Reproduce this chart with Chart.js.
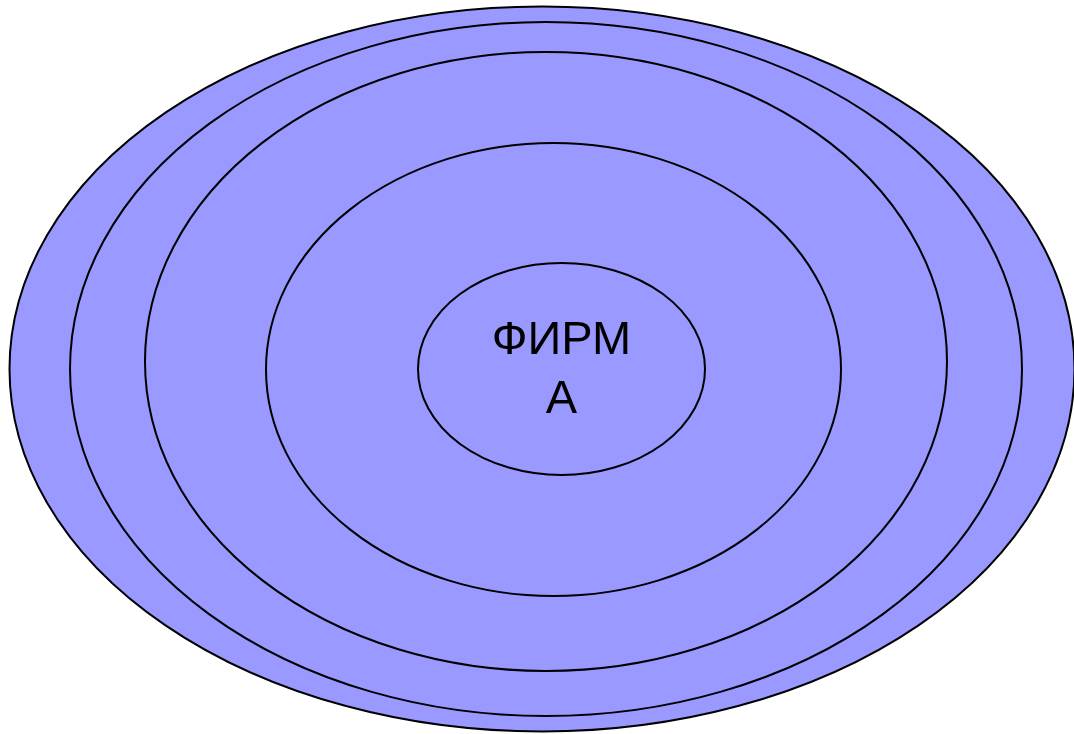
<!DOCTYPE html>
<html>
<head>
<meta charset="utf-8">
<script src="https://cdn.jsdelivr.net/npm/chart.js@4"></script>
<style>
  html, body { margin: 0; padding: 0; background: #fff; }
  #wrap { width: 1074px; height: 734px; }
</style>
</head>
<body>
<div id="wrap"><canvas id="rings"></canvas></div>
<script>
// ring geometry, outermost first (diagram units = px of the original)
const ringCenterX = [542, 546, 546, 553.5, 561.5];
const ringCenterY = [369, 369, 361.5, 369.5, 369];
const ringRadiusX = [532.5, 476, 401, 287.5, 143.5];
const ringRadiusY = [362.5, 347, 309.5, 226.5, 106];
const centerLabel = ["ФИРМ", "А"];

const ringPoints = ringCenterX.map((x, i) => ({ x: x, y: ringCenterY[i] }));

// draws every ring as an ellipse, positioned via the chart scales
const ellipsePlugin = {
  id: "ellipses",
  beforeDatasetsDraw(chart) {
    const ctx = chart.ctx;
    const xs = chart.scales.x, ys = chart.scales.y;
    ctx.save();
    for (let i = 0; i < ringCenterX.length; i++) {
      const cx = xs.getPixelForValue(ringCenterX[i]);
      const cy = ys.getPixelForValue(ringCenterY[i]);
      const rx = Math.abs(xs.getPixelForValue(ringCenterX[i] + ringRadiusX[i]) - cx);
      const ry = Math.abs(ys.getPixelForValue(ringCenterY[i] + ringRadiusY[i]) - cy);
      ctx.beginPath();
      ctx.ellipse(cx, cy, rx, ry, 0, 0, Math.PI * 2);
      ctx.fillStyle = "#9999ff";
      ctx.fill();
      ctx.lineWidth = 2;
      ctx.strokeStyle = "#000";
      ctx.stroke();
    }
    // label in the innermost ring
    const last = ringCenterX.length - 1;
    const lx = xs.getPixelForValue(ringCenterX[last]);
    const ly = ys.getPixelForValue(ringCenterY[last]);
    ctx.fillStyle = "#000";
    ctx.font = "47px 'Liberation Sans', Arial, sans-serif";
    ctx.textAlign = "center";
    ctx.textBaseline = "middle";
    const lineH = 59;
    centerLabel.forEach((t, k) => {
      ctx.fillText(t, lx, ly + 2 + (k - (centerLabel.length - 1) / 2) * lineH);
    });
    ctx.restore();
  }
};

new Chart("rings", {
  type: "scatter",
  data: {
    datasets: [{
      data: ringPoints,
      pointRadius: 0,
      pointHoverRadius: 0
    }]
  },
  options: {
    responsive: true,
    maintainAspectRatio: false,
    animation: false,
    events: [],
    layout: { padding: 0 },
    scales: {
      x: { type: "linear", min: 0, max: 1074, display: false },
      y: { type: "linear", min: 0, max: 734, reverse: true, display: false }
    },
    plugins: {
      legend: { display: false },
      tooltip: { enabled: false }
    }
  },
  plugins: [ellipsePlugin]
});
</script>
</body>
</html>
